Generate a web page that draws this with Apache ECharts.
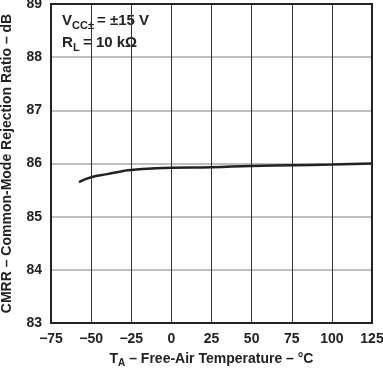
<!DOCTYPE html>
<html><head><meta charset="utf-8">
<script src="https://cdn.jsdelivr.net/npm/echarts@6/dist/echarts.min.js"></script>
<style>html,body{margin:0;padding:0;background:#fff}#c{width:383px;height:370px}</style>
</head><body><div id="c"></div>
<script>
const temps = [-57, -50, -40, -30, -25, 0, 25, 50, 75, 100, 125];
const cmrr  = [85.66, 85.74, 85.80, 85.86, 85.88, 85.92, 85.93, 85.955, 85.965, 85.98, 86.0];
const xTicks = [-75, -50, -25, 0, 25, 50, 75, 100, 125];
const yTicks = [83, 84, 85, 86, 87, 88, 89];
const F = 'Liberation Sans, Arial, sans-serif';
const minus = v => String(v).replace('-', '\u2212');
const chart = echarts.init(document.getElementById('c'));
chart.setOption({
  animation: false,
  grid: {left: 51, right: 11, top: 4, bottom: 47, show: true, borderColor: '#222', borderWidth: 2, z: 5,
         outerBoundsMode: 'none', containLabel: false},
  xAxis: {
    type: 'value', min: xTicks[0], max: xTicks[xTicks.length-1], interval: 25,
    name: '{t|T}{s|A}{t| \u2013 Free-Air Temperature \u2013 \u00b0C}',
    nameLocation: 'middle', nameGap: 27,
    nameTextStyle: {
      rich: {
        t: {fontFamily: F, fontWeight: 'bold', fontSize: 14, color: '#222', lineHeight: 18},
        s: {fontFamily: F, fontWeight: 'bold', fontSize: 10, color: '#222', padding: [7, 0, 0, 0], lineHeight: 18}
      }
    },
    axisLine: {show: false}, axisTick: {show: false},
    axisLabel: {fontFamily: F, fontWeight: 'bold', fontSize: 14, color: '#222', margin: 9, formatter: minus},
    splitLine: {show: true, lineStyle: {color: '#333', width: 1}}
  },
  yAxis: {
    type: 'value', min: yTicks[0], max: yTicks[yTicks.length-1], interval: 1,
    name: 'CMRR \u2013 Common-Mode Rejection Ratio \u2013 dB',
    nameLocation: 'middle', nameGap: 37,
    nameTextStyle: {fontFamily: F, fontWeight: 'bold', fontSize: 14, color: '#222'},
    axisLine: {show: false}, axisTick: {show: false},
    axisLabel: {fontFamily: F, fontWeight: 'bold', fontSize: 14, color: '#222', margin: 9},
    splitLine: {show: true, lineStyle: {color: '#aaa', width: 1.5}}
  },
  series: [{
    type: 'line', data: temps.map((t, i) => [t, cmrr[i]]), smooth: true,
    showSymbol: false, lineStyle: {color: '#222', width: 2.5, cap: 'round'}, z: 10
  }],
  graphic: [
    {type: 'text', left: 62, top: 13, style: {text: 'V', font: 'bold 15px ' + F, fill: '#222'}},
    {type: 'text', left: 72, top: 20, style: {text: 'CC\u00b1', font: 'bold 11px ' + F, fill: '#222'}},
    {type: 'text', left: 97, top: 13, style: {text: '= \u00b115 V', font: 'bold 15px ' + F, fill: '#222'}},
    {type: 'text', left: 62, top: 35, style: {text: 'R', font: 'bold 15px ' + F, fill: '#222'}},
    {type: 'text', left: 73, top: 42, style: {text: 'L', font: 'bold 11px ' + F, fill: '#222'}},
    {type: 'text', left: 83, top: 35, style: {text: '= 10 k\u03a9', font: 'bold 15px ' + F, fill: '#222'}}
  ]
});
</script></body></html>
